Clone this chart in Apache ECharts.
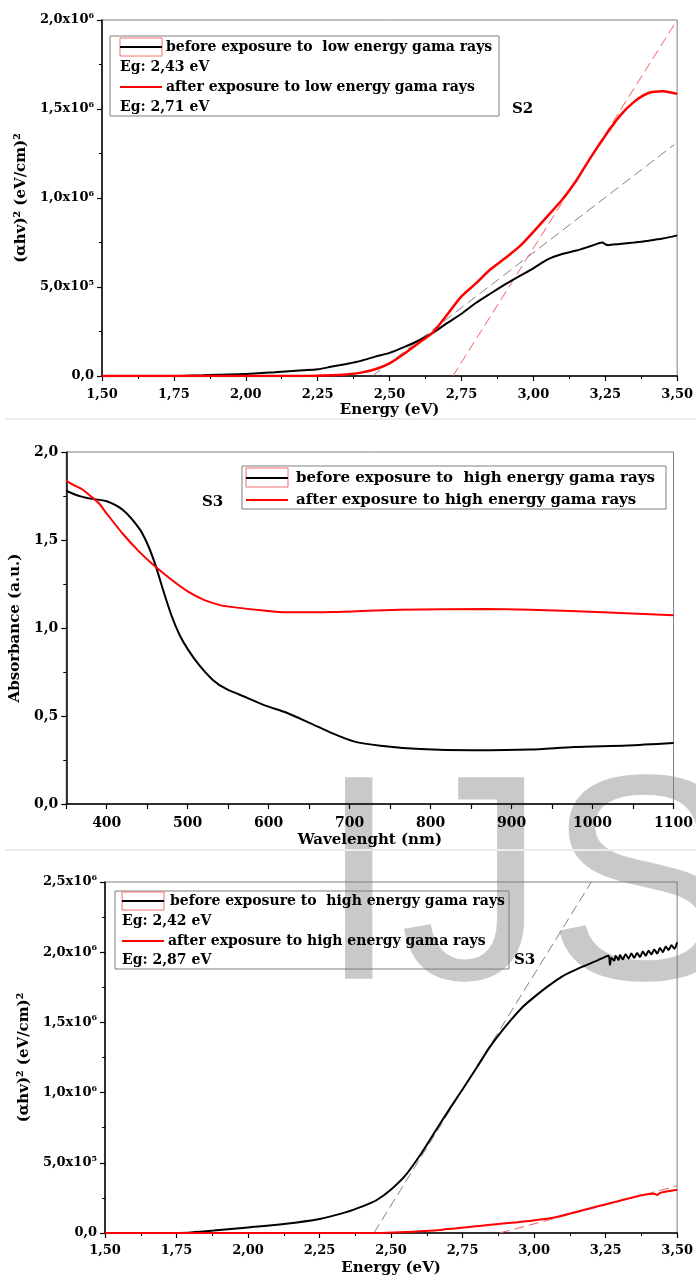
<!DOCTYPE html>
<html>
<head>
<meta charset="utf-8">
<script src="https://cdn.jsdelivr.net/npm/echarts@6/dist/echarts.min.js"></script>
<style>
  html, body { margin: 0; padding: 0; background: #fff; }
  #main { width: 696px; height: 1277px; }
</style>
</head>
<body>
<div id="main"></div>
<script>
// ---- S2, low energy : (ahv)^2 vs energy ----
var s2BeforeE = [1.77, 1.85, 1.90, 2.00, 2.10, 2.20, 2.25, 2.30, 2.35, 2.40, 2.45, 2.50, 2.55, 2.60, 2.65, 2.70, 2.75, 2.80, 2.85, 2.90, 2.95, 3.00, 3.05, 3.10, 3.15, 3.20, 3.24, 3.25, 3.26, 3.30, 3.35, 3.40, 3.45, 3.50];
var s2BeforeY = [0, 0.04, 0.07, 0.11, 0.21, 0.32, 0.38, 0.53, 0.68, 0.85, 1.09, 1.30, 1.62, 1.98, 2.42, 2.97, 3.50, 4.10, 4.62, 5.13, 5.60, 6.05, 6.55, 6.85, 7.05, 7.30, 7.50, 7.40, 7.35, 7.42, 7.50, 7.60, 7.72, 7.90]; // x1e5
var s2AfterE = [1.50, 2.20, 2.30, 2.35, 2.40, 2.45, 2.50, 2.55, 2.60, 2.65, 2.70, 2.75, 2.80, 2.85, 2.90, 2.95, 3.00, 3.05, 3.10, 3.15, 3.20, 3.25, 3.30, 3.35, 3.40, 3.45, 3.50];
var s2AfterY = [0, 0, 0.04, 0.09, 0.19, 0.38, 0.71, 1.24, 1.84, 2.44, 3.44, 4.47, 5.20, 5.98, 6.60, 7.25, 8.10, 9.00, 9.90, 11.0, 12.3, 13.5, 14.6, 15.4, 15.9, 16.0, 15.85]; // x1e5
var s2FitBefore = [[2.44, 0], [3.49, 1.30e6]];
var s2FitAfter = [[2.72, 0], [3.50, 2.0e6]];

// ---- S3, absorbance vs wavelength ----
var absBeforeW = [350, 360, 370, 380, 400, 420, 440, 450, 460, 470, 480, 490, 500, 514, 531, 547, 574, 596, 623, 651, 678, 705, 738, 787, 852, 923, 977, 1043, 1100];
var absBeforeA = [1.78, 1.76, 1.745, 1.735, 1.72, 1.67, 1.566, 1.48, 1.36, 1.21, 1.07, 0.96, 0.88, 0.79, 0.705, 0.655, 0.602, 0.559, 0.517, 0.46, 0.403, 0.356, 0.331, 0.312, 0.305, 0.309, 0.324, 0.333, 0.347];
var absAfterW = [350, 360, 370, 380, 390, 400, 420, 440, 460, 480, 500, 520, 540, 553, 596, 623, 678, 760, 868, 923, 1005, 1100];
var absAfterA = [1.836, 1.81, 1.787, 1.75, 1.71, 1.65, 1.534, 1.434, 1.349, 1.274, 1.208, 1.16, 1.13, 1.12, 1.098, 1.089, 1.091, 1.104, 1.108, 1.104, 1.091, 1.072];

// ---- S3, high energy : (ahv)^2 vs energy ----
var s3BeforeE = [1.74, 1.80, 1.88, 2.00, 2.125, 2.25, 2.34, 2.40, 2.45, 2.50, 2.55, 2.60, 2.65, 2.70, 2.75, 2.80, 2.84, 2.88, 2.92, 2.96, 3.00, 3.05, 3.10, 3.15, 3.22, 3.26,
  3.265, 3.27, 3.28, 3.285, 3.295, 3.30, 3.31, 3.32, 3.33, 3.34, 3.35, 3.36, 3.37, 3.38, 3.39, 3.40, 3.41, 3.42, 3.43, 3.44, 3.45, 3.46, 3.47, 3.48, 3.49, 3.50];
var s3BeforeY = [0, 0.004, 0.017, 0.04, 0.064, 0.10, 0.147, 0.19, 0.235, 0.31, 0.41, 0.55, 0.71, 0.87, 1.024, 1.18, 1.31, 1.42, 1.52, 1.61, 1.68, 1.76, 1.83, 1.88, 1.94, 1.975,
  1.91, 1.96, 1.94, 1.975, 1.945, 1.98, 1.95, 1.985, 1.955, 1.99, 1.96, 1.995, 1.965, 2.005, 1.975, 2.01, 1.985, 2.02, 1.99, 2.03, 2.0, 2.04, 2.015, 2.05, 2.025, 2.07]; // x1e6
var s3AfterE = [1.50, 2.45, 2.53, 2.68, 2.84, 2.99, 3.07, 3.15, 3.23, 3.30, 3.38, 3.42, 3.43, 3.44, 3.50];
var s3AfterY = [0, 0, 0.05, 0.24, 0.57, 0.88, 1.11, 1.52, 1.94, 2.30, 2.70, 2.80, 2.70, 2.86, 3.08]; // x1e5
var s3FitBefore = [[2.44, 0], [3.20, 2.5e6]];
var s3FitAfter = [[2.88, 0], [3.50, 3.36e5]];

var FONT = "DejaVu Serif";

function zip(xs, ys, k) {
  return xs.map(function (x, i) { return [x, ys[i] * k]; });
}
function comma(v, d) {
  return v.toFixed(d).replace(".", ",");
}
function sci(v) {
  if (v === 0) return "{b|0,0}";
  var e = Math.floor(Math.log10(v) + 1e-9);
  var m = v / Math.pow(10, e);
  return "{b|" + comma(m, 1) + "x10}{s|" + e + "}";
}

var chart = echarts.init(document.getElementById("main"));

function valueAxis(grid, opt, fs) {
  var a = {
    type: "value",
    gridIndex: grid,
    axisLine: { show: true, onZero: false, lineStyle: { color: "#000", width: 1.5 } },
    axisTick: { show: true, length: 5, lineStyle: { color: "#000", width: 1.2 } },
    minorTick: { show: true, splitNumber: 2, length: 3, lineStyle: { color: "#000" } },
    splitLine: { show: false },
    axisLabel: { color: "#000", fontFamily: FONT, fontWeight: "bold", fontSize: fs || 13 },
    nameLocation: "middle",
    nameTextStyle: { color: "#000", fontFamily: FONT, fontWeight: "bold", fontSize: 15 }
  };
  for (var k in opt) {
    if (typeof opt[k] === "object" && a[k] && !Array.isArray(opt[k])) {
      a[k] = Object.assign({}, a[k], opt[k]);
    } else {
      a[k] = opt[k];
    }
  }
  return a;
}

var sciRich = {
  b: { fontFamily: FONT, fontWeight: "bold", fontSize: 13, color: "#000", lineHeight: 16 },
  s: { fontFamily: FONT, fontWeight: "bold", fontSize: 8, color: "#000", lineHeight: 9, verticalAlign: "top" }
};

function curve(xi, data, color, w) {
  return {
    type: "line", xAxisIndex: xi, yAxisIndex: xi, data: data, showSymbol: false,
    smooth: 0.25, lineStyle: { color: color, width: w || 2 }, z: 3
  };
}
function fit(xi, data, color) {
  return {
    type: "line", xAxisIndex: xi, yAxisIndex: xi, data: data, showSymbol: false,
    lineStyle: { color: color, width: 1, type: [10, 5] }, z: 2
  };
}

function legendText(x, y, t, fs) {
  return { type: "text", x: x, y: y, z: 10, style: { text: t, fill: "#000", font: "bold " + (fs || 14) + "px '" + FONT + "'", verticalAlign: "middle" } };
}
function legendBox(x, y, w, h) {
  return { type: "rect", z: 10, shape: { x: x, y: y, width: w, height: h }, style: { fill: "none", stroke: "#7f7f7f", lineWidth: 1 } };
}
function iconLine(x, y, w, color) {
  return { type: "line", z: 10, shape: { x1: x, y1: y, x2: x + w, y2: y }, style: { stroke: color, lineWidth: 2 } };
}
function iconRect(x, y, w, h) {
  return { type: "rect", z: 10, shape: { x: x, y: y, width: w, height: h }, style: { fill: "none", stroke: "#f07070", lineWidth: 1 } };
}

var option = {
  backgroundColor: "#fff",
  animation: false,
  grid: [
    { left: 102, top: 20, width: 576, height: 356, show: true, borderColor: "#7f7f7f", borderWidth: 1 },
    { left: 66, top: 452, width: 612, height: 352, show: true, borderColor: "#7f7f7f", borderWidth: 1 },
    { left: 105, top: 882, width: 573, height: 352, show: true, borderColor: "#7f7f7f", borderWidth: 1 }
  ],
  xAxis: [
    valueAxis(0, { min: 1.5, max: 3.5, interval: 0.25, name: "Energy (eV)", nameGap: 27,
      axisLabel: { margin: 12, formatter: function (v) { return comma(v, 2); } } }),
    valueAxis(1, { min: 350, max: 1100, interval: 50, name: "Wavelenght (nm)", nameGap: 29,
      minorTick: { show: false },
      axisLabel: { margin: 12, fontSize: 14, formatter: function (v) { return v % 100 === 0 ? String(v) : ""; } } }),
    valueAxis(2, { min: 1.5, max: 3.5, interval: 0.25, name: "Energy (eV)", nameGap: 28,
      axisLabel: { margin: 11, formatter: function (v) { return comma(v, 2); } } })
  ],
  yAxis: [
    valueAxis(0, { min: 0, max: 2e6, interval: 5e5, name: "(αhv)² (eV/cm)²", nameGap: 69,
      axisLabel: { margin: 8, formatter: sci, rich: sciRich } }),
    valueAxis(1, { min: 0, max: 2, interval: 0.5, name: "Absorbance (a.u.)", nameGap: 42,
      axisLabel: { margin: 8, fontSize: 14, formatter: function (v) { return comma(v, 1); } } }),
    valueAxis(2, { min: 0, max: 2.5e6, interval: 5e5, name: "(αhv)² (eV/cm)²", nameGap: 70,
      axisLabel: { margin: 8, formatter: sci, rich: sciRich } })
  ],
  series: [
    fit(0, s2FitBefore, "#808080"),
    fit(0, s2FitAfter, "#f06060"),
    curve(0, zip(s2BeforeE, s2BeforeY, 1e5), "#000"),
    curve(0, zip(s2AfterE, s2AfterY, 1e5), "#ff0000", 2.5),

    curve(1, zip(absBeforeW, absBeforeA, 1), "#000"),
    curve(1, zip(absAfterW, absAfterA, 1), "#ff0000"),

    fit(2, s3FitBefore, "#808080"),
    fit(2, s3FitAfter, "#f06060"),
    curve(2, zip(s3BeforeE, s3BeforeY, 1e6), "#000"),
    curve(2, zip(s3AfterE, s3AfterY, 1e5), "#ff0000")
  ],
  graphic: [
    // watermark
    { type: "text", x: 318, y: 898, z: -5, style: { text: "IJS", fill: "#c9c9c9", font: "293px 'Liberation Sans'", verticalAlign: "middle" } },
    // page separators
    { type: "line", shape: { x1: 5, y1: 419, x2: 696, y2: 419 }, style: { stroke: "#ececec", lineWidth: 2 } },
    { type: "line", shape: { x1: 5, y1: 850, x2: 696, y2: 850 }, style: { stroke: "#ececec", lineWidth: 2 } },

    // legend S2
    legendBox(110, 36, 389, 80),
    iconRect(120, 38, 42, 18),
    iconLine(120, 47, 42, "#000"),
    legendText(166, 47, "before exposure to  low energy gama rays"),
    legendText(120, 67, "Eg: 2,43 eV"),
    iconLine(120, 87, 42, "#ff0000"),
    legendText(166, 87, "after exposure to low energy gama rays"),
    legendText(120, 107, "Eg: 2,71 eV"),
    legendText(512, 109, "S2", 15),

    // legend absorbance
    legendBox(242, 466, 424, 43),
    iconRect(246, 468, 42, 19),
    iconLine(246, 478, 42, "#000"),
    legendText(296, 478, "before exposure to  high energy gama rays", 15),
    iconLine(246, 500, 42, "#ff0000"),
    legendText(296, 500, "after exposure to high energy gama rays", 15),
    legendText(202, 502, "S3", 15),

    // legend S3
    legendBox(115, 891, 394, 78),
    iconRect(122, 892, 42, 18),
    iconLine(122, 901, 42, "#000"),
    legendText(170, 901, "before exposure to  high energy gama rays"),
    legendText(122, 921, "Eg: 2,42 eV"),
    iconLine(122, 941, 42, "#ff0000"),
    legendText(168, 941, "after exposure to high energy gama rays"),
    legendText(122, 960, "Eg: 2,87 eV"),
    legendText(514, 960, "S3", 15)
  ]
};

chart.setOption(option);
</script>
</body>
</html>
